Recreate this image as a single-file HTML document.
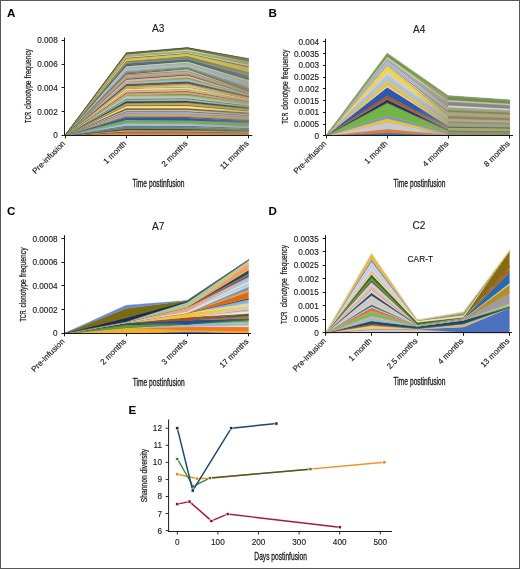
<!DOCTYPE html>
<html><head><meta charset="utf-8"><style>
html,body{margin:0;padding:0;background:#fff;}
#w{position:relative;width:520px;height:569px;overflow:hidden;background:#fff;}
svg{position:absolute;left:0;top:0;filter:blur(0.35px);}
text{font-family:"Liberation Sans", sans-serif;}
</style></head><body><div id="w">
<svg width="520" height="569" viewBox="0 0 520 569">
<rect x="0.5" y="0.5" width="519" height="568" fill="#fff" stroke="#585858" stroke-width="1"/>

<text x="7" y="17" font-size="11.6" font-weight="bold" fill="#000">A</text>
<text x="268.6" y="16.9" font-size="11.6" font-weight="bold" fill="#000">B</text>
<text x="6.9" y="215" font-size="11.6" font-weight="bold" fill="#000">C</text>
<text x="268.5" y="214.7" font-size="11.6" font-weight="bold" fill="#000">D</text>
<text x="128.5" y="413.6" font-size="11.6" font-weight="bold" fill="#000">E</text>
<text x="158.3" y="31.5" text-anchor="middle" font-size="10.1" fill="#1a1a1a" stroke="#1a1a1a" stroke-width="0.12">A3</text>
<text x="419.2" y="33.1" text-anchor="middle" font-size="10.1" fill="#1a1a1a" stroke="#1a1a1a" stroke-width="0.12">A4</text>
<text x="158.2" y="229.5" text-anchor="middle" font-size="10.1" fill="#1a1a1a" stroke="#1a1a1a" stroke-width="0.12">A7</text>
<text x="419" y="229.4" text-anchor="middle" font-size="10.1" fill="#1a1a1a" stroke="#1a1a1a" stroke-width="0.12">C2</text>
<path d="M65.00,135.40 L126.30,134.51 L187.40,134.54 L248.60,134.77 L248.60,135.40 L187.40,135.40 L126.30,135.40 L65.00,135.40Z" fill="#c8a070" stroke="#c8a070" stroke-width="0.35"/>
<path d="M65.00,135.40 L126.30,134.17 L187.40,134.18 L248.60,134.54 L248.60,134.77 L187.40,134.54 L126.30,134.51 L65.00,135.40Z" fill="#a89868" stroke="#a89868" stroke-width="0.35"/>
<path d="M65.00,135.40 L126.30,132.32 L187.40,132.23 L248.60,133.10 L248.60,134.54 L187.40,134.18 L126.30,134.17 L65.00,135.40Z" fill="#e07a30" stroke="#e07a30" stroke-width="0.35"/>
<path d="M65.00,135.40 L126.30,131.98 L187.40,131.94 L248.60,132.82 L248.60,133.10 L187.40,132.23 L126.30,132.32 L65.00,135.40Z" fill="#7a7a48" stroke="#7a7a48" stroke-width="0.35"/>
<path d="M65.00,135.40 L126.30,131.54 L187.40,131.57 L248.60,132.47 L248.60,132.82 L187.40,131.94 L126.30,131.98 L65.00,135.40Z" fill="#3a3a2a" stroke="#3a3a2a" stroke-width="0.35"/>
<path d="M65.00,135.40 L126.30,130.35 L187.40,130.55 L248.60,131.65 L248.60,132.47 L187.40,131.57 L126.30,131.54 L65.00,135.40Z" fill="#f0a070" stroke="#f0a070" stroke-width="0.35"/>
<path d="M65.00,135.40 L126.30,130.01 L187.40,130.21 L248.60,131.34 L248.60,131.65 L187.40,130.55 L126.30,130.35 L65.00,135.40Z" fill="#8a8a80" stroke="#8a8a80" stroke-width="0.35"/>
<path d="M65.00,135.40 L126.30,128.75 L187.40,129.10 L248.60,130.42 L248.60,131.34 L187.40,130.21 L126.30,130.01 L65.00,135.40Z" fill="#4a4a2a" stroke="#4a4a2a" stroke-width="0.35"/>
<path d="M65.00,135.40 L126.30,128.42 L187.40,128.74 L248.60,130.09 L248.60,130.42 L187.40,129.10 L126.30,128.75 L65.00,135.40Z" fill="#5a5a30" stroke="#5a5a30" stroke-width="0.35"/>
<path d="M65.00,135.40 L126.30,126.56 L187.40,126.76 L248.60,128.63 L248.60,130.09 L187.40,128.74 L126.30,128.42 L65.00,135.40Z" fill="#5a8a80" stroke="#5a8a80" stroke-width="0.35"/>
<path d="M65.00,135.40 L126.30,126.22 L187.40,126.35 L248.60,128.41 L248.60,128.63 L187.40,126.76 L126.30,126.56 L65.00,135.40Z" fill="#a0a890" stroke="#a0a890" stroke-width="0.35"/>
<path d="M65.00,135.40 L126.30,125.78 L187.40,125.82 L248.60,128.07 L248.60,128.41 L187.40,126.35 L126.30,126.22 L65.00,135.40Z" fill="#2a4a5a" stroke="#2a4a5a" stroke-width="0.35"/>
<path d="M65.00,135.40 L126.30,123.62 L187.40,123.91 L248.60,126.50 L248.60,128.07 L187.40,125.82 L126.30,125.78 L65.00,135.40Z" fill="#b0b8e8" stroke="#b0b8e8" stroke-width="0.35"/>
<path d="M65.00,135.40 L126.30,123.29 L187.40,123.59 L248.60,126.14 L248.60,126.50 L187.40,123.91 L126.30,123.62 L65.00,135.40Z" fill="#98a8b0" stroke="#98a8b0" stroke-width="0.35"/>
<path d="M65.00,135.40 L126.30,120.24 L187.40,120.84 L248.60,123.09 L248.60,126.14 L187.40,123.59 L126.30,123.29 L65.00,135.40Z" fill="#70b050" stroke="#70b050" stroke-width="0.35"/>
<path d="M65.00,135.40 L126.30,119.91 L187.40,120.48 L248.60,122.78 L248.60,123.09 L187.40,120.84 L126.30,120.24 L65.00,135.40Z" fill="#b89a68" stroke="#b89a68" stroke-width="0.35"/>
<path d="M65.00,135.40 L126.30,117.46 L187.40,117.89 L248.60,120.82 L248.60,122.78 L187.40,120.48 L126.30,119.91 L65.00,135.40Z" fill="#2a5aa8" stroke="#2a5aa8" stroke-width="0.35"/>
<path d="M65.00,135.40 L126.30,117.12 L187.40,117.61 L248.60,120.53 L248.60,120.82 L187.40,117.89 L126.30,117.46 L65.00,135.40Z" fill="#7a8a70" stroke="#7a8a70" stroke-width="0.35"/>
<path d="M65.00,135.40 L126.30,116.68 L187.40,117.11 L248.60,120.11 L248.60,120.53 L187.40,117.61 L126.30,117.12 L65.00,135.40Z" fill="#5a3a20" stroke="#5a3a20" stroke-width="0.35"/>
<path d="M65.00,135.40 L126.30,115.78 L187.40,116.26 L248.60,119.22 L248.60,120.11 L187.40,117.11 L126.30,116.68 L65.00,135.40Z" fill="#909090" stroke="#909090" stroke-width="0.35"/>
<path d="M65.00,135.40 L126.30,115.45 L187.40,115.92 L248.60,118.92 L248.60,119.22 L187.40,116.26 L126.30,115.78 L65.00,135.40Z" fill="#908a50" stroke="#908a50" stroke-width="0.35"/>
<path d="M65.00,135.40 L126.30,113.59 L187.40,113.77 L248.60,116.98 L248.60,118.92 L187.40,115.92 L126.30,115.45 L65.00,135.40Z" fill="#d0a080" stroke="#d0a080" stroke-width="0.35"/>
<path d="M65.00,135.40 L126.30,113.26 L187.40,113.46 L248.60,116.64 L248.60,116.98 L187.40,113.77 L126.30,113.59 L65.00,135.40Z" fill="#606048" stroke="#606048" stroke-width="0.35"/>
<path d="M65.00,135.40 L126.30,111.99 L187.40,112.14 L248.60,115.56 L248.60,116.64 L187.40,113.46 L126.30,113.26 L65.00,135.40Z" fill="#a0c0e8" stroke="#a0c0e8" stroke-width="0.35"/>
<path d="M65.00,135.40 L126.30,111.66 L187.40,111.77 L248.60,115.33 L248.60,115.56 L187.40,112.14 L126.30,111.99 L65.00,135.40Z" fill="#a0a088" stroke="#a0a088" stroke-width="0.35"/>
<path d="M65.00,135.40 L126.30,111.21 L187.40,111.22 L248.60,115.05 L248.60,115.33 L187.40,111.77 L126.30,111.66 L65.00,135.40Z" fill="#2a3a6a" stroke="#2a3a6a" stroke-width="0.35"/>
<path d="M65.00,135.40 L126.30,109.73 L187.40,109.73 L248.60,113.84 L248.60,115.05 L187.40,111.22 L126.30,111.21 L65.00,135.40Z" fill="#e8b890" stroke="#e8b890" stroke-width="0.35"/>
<path d="M65.00,135.40 L126.30,109.39 L187.40,109.43 L248.60,113.59 L248.60,113.84 L187.40,109.73 L126.30,109.73 L65.00,135.40Z" fill="#8a9060" stroke="#8a9060" stroke-width="0.35"/>
<path d="M65.00,135.40 L126.30,108.13 L187.40,108.37 L248.60,112.59 L248.60,113.59 L187.40,109.43 L126.30,109.39 L65.00,135.40Z" fill="#5a5030" stroke="#5a5030" stroke-width="0.35"/>
<path d="M65.00,135.40 L126.30,107.80 L187.40,107.98 L248.60,112.34 L248.60,112.59 L187.40,108.37 L126.30,108.13 L65.00,135.40Z" fill="#a89868" stroke="#a89868" stroke-width="0.35"/>
<path d="M65.00,135.40 L126.30,105.94 L187.40,105.78 L248.60,111.07 L248.60,112.34 L187.40,107.98 L126.30,107.80 L65.00,135.40Z" fill="#f0e8a0" stroke="#f0e8a0" stroke-width="0.35"/>
<path d="M65.00,135.40 L126.30,105.60 L187.40,105.40 L248.60,110.81 L248.60,111.07 L187.40,105.78 L126.30,105.94 L65.00,135.40Z" fill="#7a7a48" stroke="#7a7a48" stroke-width="0.35"/>
<path d="M65.00,135.40 L126.30,105.16 L187.40,104.93 L248.60,110.49 L248.60,110.81 L187.40,105.40 L126.30,105.60 L65.00,135.40Z" fill="#4a5a30" stroke="#4a5a30" stroke-width="0.35"/>
<path d="M65.00,135.40 L126.30,103.38 L187.40,102.83 L248.60,108.93 L248.60,110.49 L187.40,104.93 L126.30,105.16 L65.00,135.40Z" fill="#e8a020" stroke="#e8a020" stroke-width="0.35"/>
<path d="M65.00,135.40 L126.30,103.04 L187.40,102.49 L248.60,108.67 L248.60,108.93 L187.40,102.83 L126.30,103.38 L65.00,135.40Z" fill="#8a8a80" stroke="#8a8a80" stroke-width="0.35"/>
<path d="M65.00,135.40 L126.30,101.18 L187.40,100.91 L248.60,107.18 L248.60,108.67 L187.40,102.49 L126.30,103.04 L65.00,135.40Z" fill="#1a4a5a" stroke="#1a4a5a" stroke-width="0.35"/>
<path d="M65.00,135.40 L126.30,100.85 L187.40,100.54 L248.60,106.88 L248.60,107.18 L187.40,100.91 L126.30,101.18 L65.00,135.40Z" fill="#5a5a30" stroke="#5a5a30" stroke-width="0.35"/>
<path d="M65.00,135.40 L126.30,99.59 L187.40,99.07 L248.60,106.03 L248.60,106.88 L187.40,100.54 L126.30,100.85 L65.00,135.40Z" fill="#a0c0e0" stroke="#a0c0e0" stroke-width="0.35"/>
<path d="M65.00,135.40 L126.30,99.25 L187.40,98.74 L248.60,105.77 L248.60,106.03 L187.40,99.07 L126.30,99.59 L65.00,135.40Z" fill="#a0a890" stroke="#a0a890" stroke-width="0.35"/>
<path d="M65.00,135.40 L126.30,98.81 L187.40,98.36 L248.60,105.44 L248.60,105.77 L187.40,98.74 L126.30,99.25 L65.00,135.40Z" fill="#3a3a2a" stroke="#3a3a2a" stroke-width="0.35"/>
<path d="M65.00,135.40 L126.30,96.95 L187.40,96.70 L248.60,104.28 L248.60,105.44 L187.40,98.36 L126.30,98.81 L65.00,135.40Z" fill="#b8d8a0" stroke="#b8d8a0" stroke-width="0.35"/>
<path d="M65.00,135.40 L126.30,96.61 L187.40,96.41 L248.60,104.00 L248.60,104.28 L187.40,96.70 L126.30,96.95 L65.00,135.40Z" fill="#98a8b0" stroke="#98a8b0" stroke-width="0.35"/>
<path d="M65.00,135.40 L126.30,95.50 L187.40,95.43 L248.60,103.31 L248.60,104.00 L187.40,96.41 L126.30,96.61 L65.00,135.40Z" fill="#b0b8c0" stroke="#b0b8c0" stroke-width="0.35"/>
<path d="M65.00,135.40 L126.30,95.16 L187.40,95.10 L248.60,103.06 L248.60,103.31 L187.40,95.43 L126.30,95.50 L65.00,135.40Z" fill="#b89a68" stroke="#b89a68" stroke-width="0.35"/>
<path d="M65.00,135.40 L126.30,94.94 L187.40,93.44 L248.60,102.92 L248.60,103.06 L187.40,95.10 L126.30,95.16 L65.00,135.40Z" fill="#6a9a50" stroke="#6a9a50" stroke-width="0.35"/>
<path d="M65.00,135.40 L126.30,93.31 L187.40,91.72 L248.60,101.69 L248.60,102.92 L187.40,93.44 L126.30,94.94 L65.00,135.40Z" fill="#e0a060" stroke="#e0a060" stroke-width="0.35"/>
<path d="M65.00,135.40 L126.30,92.97 L187.40,91.33 L248.60,101.44 L248.60,101.69 L187.40,91.72 L126.30,93.31 L65.00,135.40Z" fill="#7a8a70" stroke="#7a8a70" stroke-width="0.35"/>
<path d="M65.00,135.40 L126.30,92.53 L187.40,90.91 L248.60,101.16 L248.60,101.44 L187.40,91.33 L126.30,92.97 L65.00,135.40Z" fill="#2a4a5a" stroke="#2a4a5a" stroke-width="0.35"/>
<path d="M65.00,135.40 L126.30,90.67 L187.40,89.10 L248.60,99.76 L248.60,101.16 L187.40,90.91 L126.30,92.53 L65.00,135.40Z" fill="#f0b080" stroke="#f0b080" stroke-width="0.35"/>
<path d="M65.00,135.40 L126.30,90.33 L187.40,88.69 L248.60,99.57 L248.60,99.76 L187.40,89.10 L126.30,90.67 L65.00,135.40Z" fill="#908a50" stroke="#908a50" stroke-width="0.35"/>
<path d="M65.00,135.40 L126.30,88.48 L187.40,87.02 L248.60,98.49 L248.60,99.57 L187.40,88.69 L126.30,90.33 L65.00,135.40Z" fill="#f0e0a0" stroke="#f0e0a0" stroke-width="0.35"/>
<path d="M65.00,135.40 L126.30,88.14 L187.40,86.71 L248.60,98.27 L248.60,98.49 L187.40,87.02 L126.30,88.48 L65.00,135.40Z" fill="#606048" stroke="#606048" stroke-width="0.35"/>
<path d="M65.00,135.40 L126.30,87.92 L187.40,85.01 L248.60,98.14 L248.60,98.27 L187.40,86.71 L126.30,88.14 L65.00,135.40Z" fill="#b8d8a0" stroke="#b8d8a0" stroke-width="0.35"/>
<path d="M65.00,135.40 L126.30,86.14 L187.40,83.53 L248.60,97.01 L248.60,98.14 L187.40,85.01 L126.30,87.92 L65.00,135.40Z" fill="#e89030" stroke="#e89030" stroke-width="0.35"/>
<path d="M65.00,135.40 L126.30,85.80 L187.40,83.20 L248.60,96.79 L248.60,97.01 L187.40,83.53 L126.30,86.14 L65.00,135.40Z" fill="#a0a088" stroke="#a0a088" stroke-width="0.35"/>
<path d="M65.00,135.40 L126.30,85.36 L187.40,82.66 L248.60,96.48 L248.60,96.79 L187.40,83.20 L126.30,85.80 L65.00,135.40Z" fill="#5a3a20" stroke="#5a3a20" stroke-width="0.35"/>
<path d="M65.00,135.40 L126.30,84.09 L187.40,81.34 L248.60,95.72 L248.60,96.48 L187.40,82.66 L126.30,85.36 L65.00,135.40Z" fill="#2a5a6a" stroke="#2a5a6a" stroke-width="0.35"/>
<path d="M65.00,135.40 L126.30,83.76 L187.40,80.97 L248.60,95.61 L248.60,95.72 L187.40,81.34 L126.30,84.09 L65.00,135.40Z" fill="#8a9060" stroke="#8a9060" stroke-width="0.35"/>
<path d="M65.00,135.40 L126.30,82.20 L187.40,79.10 L248.60,94.90 L248.60,95.61 L187.40,80.97 L126.30,83.76 L65.00,135.40Z" fill="#a8b8c8" stroke="#a8b8c8" stroke-width="0.35"/>
<path d="M65.00,135.40 L126.30,81.86 L187.40,78.70 L248.60,94.75 L248.60,94.90 L187.40,79.10 L126.30,82.20 L65.00,135.40Z" fill="#a89868" stroke="#a89868" stroke-width="0.35"/>
<path d="M65.00,135.40 L126.30,81.64 L187.40,77.02 L248.60,94.66 L248.60,94.75 L187.40,78.70 L126.30,81.86 L65.00,135.40Z" fill="#7aa860" stroke="#7aa860" stroke-width="0.35"/>
<path d="M65.00,135.40 L126.30,79.56 L187.40,75.21 L248.60,93.78 L248.60,94.66 L187.40,77.02 L126.30,81.64 L65.00,135.40Z" fill="#f0b090" stroke="#f0b090" stroke-width="0.35"/>
<path d="M65.00,135.40 L126.30,79.23 L187.40,74.92 L248.60,93.67 L248.60,93.78 L187.40,75.21 L126.30,79.56 L65.00,135.40Z" fill="#7a7a48" stroke="#7a7a48" stroke-width="0.35"/>
<path d="M65.00,135.40 L126.30,78.78 L187.40,74.52 L248.60,93.51 L248.60,93.67 L187.40,74.92 L126.30,79.23 L65.00,135.40Z" fill="#2a3a6a" stroke="#2a3a6a" stroke-width="0.35"/>
<path d="M65.00,135.40 L126.30,77.44 L187.40,73.22 L248.60,93.06 L248.60,93.51 L187.40,74.52 L126.30,78.78 L65.00,135.40Z" fill="#a0a0a0" stroke="#a0a0a0" stroke-width="0.35"/>
<path d="M65.00,135.40 L126.30,77.11 L187.40,72.95 L248.60,92.95 L248.60,93.06 L187.40,73.22 L126.30,77.44 L65.00,135.40Z" fill="#8a8a80" stroke="#8a8a80" stroke-width="0.35"/>
<path d="M65.00,135.40 L126.30,74.73 L187.40,70.88 L248.60,92.04 L248.60,92.95 L187.40,72.95 L126.30,77.11 L65.00,135.40Z" fill="#d0a080" stroke="#d0a080" stroke-width="0.35"/>
<path d="M65.00,135.40 L126.30,74.40 L187.40,70.64 L248.60,91.63 L248.60,92.04 L187.40,70.88 L126.30,74.73 L65.00,135.40Z" fill="#5a5a30" stroke="#5a5a30" stroke-width="0.35"/>
<path d="M65.00,135.40 L126.30,74.17 L187.40,68.99 L248.60,91.34 L248.60,91.63 L187.40,70.64 L126.30,74.40 L65.00,135.40Z" fill="#a8d0b0" stroke="#a8d0b0" stroke-width="0.35"/>
<path d="M65.00,135.40 L126.30,73.21 L187.40,68.30 L248.60,89.98 L248.60,91.34 L187.40,68.99 L126.30,74.17 L65.00,135.40Z" fill="#6a4a2a" stroke="#6a4a2a" stroke-width="0.35"/>
<path d="M65.00,135.40 L126.30,72.87 L187.40,68.05 L248.60,89.55 L248.60,89.98 L187.40,68.30 L126.30,73.21 L65.00,135.40Z" fill="#a0a890" stroke="#a0a890" stroke-width="0.35"/>
<path d="M65.00,135.40 L126.30,72.43 L187.40,67.65 L248.60,88.75 L248.60,89.55 L187.40,68.05 L126.30,72.87 L65.00,135.40Z" fill="#4a5a30" stroke="#4a5a30" stroke-width="0.35"/>
<path d="M65.00,135.40 L126.30,70.94 L187.40,66.48 L248.60,86.53 L248.60,88.75 L187.40,67.65 L126.30,72.43 L65.00,135.40Z" fill="#8a9a80" stroke="#8a9a80" stroke-width="0.35"/>
<path d="M65.00,135.40 L126.30,70.61 L187.40,66.26 L248.60,86.11 L248.60,86.53 L187.40,66.48 L126.30,70.94 L65.00,135.40Z" fill="#98a8b0" stroke="#98a8b0" stroke-width="0.35"/>
<path d="M65.00,135.40 L126.30,67.86 L187.40,64.22 L248.60,82.37 L248.60,86.11 L187.40,66.26 L126.30,70.61 L65.00,135.40Z" fill="#a8b8e0" stroke="#a8b8e0" stroke-width="0.35"/>
<path d="M65.00,135.40 L126.30,67.52 L187.40,63.92 L248.60,81.94 L248.60,82.37 L187.40,64.22 L126.30,67.86 L65.00,135.40Z" fill="#b89a68" stroke="#b89a68" stroke-width="0.35"/>
<path d="M65.00,135.40 L126.30,67.30 L187.40,62.32 L248.60,81.55 L248.60,81.94 L187.40,63.92 L126.30,67.52 L65.00,135.40Z" fill="#9ac070" stroke="#9ac070" stroke-width="0.35"/>
<path d="M65.00,135.40 L126.30,66.04 L187.40,61.30 L248.60,79.92 L248.60,81.55 L187.40,62.32 L126.30,67.30 L65.00,135.40Z" fill="#c8c8c8" stroke="#c8c8c8" stroke-width="0.35"/>
<path d="M65.00,135.40 L126.30,65.70 L187.40,61.03 L248.60,79.51 L248.60,79.92 L187.40,61.30 L126.30,66.04 L65.00,135.40Z" fill="#7a8a70" stroke="#7a8a70" stroke-width="0.35"/>
<path d="M65.00,135.40 L126.30,65.26 L187.40,60.68 L248.60,78.71 L248.60,79.51 L187.40,61.03 L126.30,65.70 L65.00,135.40Z" fill="#3a3a2a" stroke="#3a3a2a" stroke-width="0.35"/>
<path d="M65.00,135.40 L126.30,63.40 L187.40,58.99 L248.60,75.71 L248.60,78.71 L187.40,60.68 L126.30,65.26 L65.00,135.40Z" fill="#4a6a90" stroke="#4a6a90" stroke-width="0.35"/>
<path d="M65.00,135.40 L126.30,63.07 L187.40,58.75 L248.60,75.23 L248.60,75.71 L187.40,58.99 L126.30,63.40 L65.00,135.40Z" fill="#908a50" stroke="#908a50" stroke-width="0.35"/>
<path d="M65.00,135.40 L126.30,61.58 L187.40,57.73 L248.60,72.76 L248.60,75.23 L187.40,58.75 L126.30,63.07 L65.00,135.40Z" fill="#8a8a70" stroke="#8a8a70" stroke-width="0.35"/>
<path d="M65.00,135.40 L126.30,61.24 L187.40,57.46 L248.60,72.20 L248.60,72.76 L187.40,57.73 L126.30,61.58 L65.00,135.40Z" fill="#606048" stroke="#606048" stroke-width="0.35"/>
<path d="M65.00,135.40 L126.30,61.02 L187.40,55.83 L248.60,71.90 L248.60,72.20 L187.40,57.46 L126.30,61.24 L65.00,135.40Z" fill="#6a9a50" stroke="#6a9a50" stroke-width="0.35"/>
<path d="M65.00,135.40 L126.30,58.57 L187.40,53.65 L248.60,67.51 L248.60,71.90 L187.40,55.83 L126.30,61.02 L65.00,135.40Z" fill="#e8c040" stroke="#e8c040" stroke-width="0.35"/>
<path d="M65.00,135.40 L126.30,58.24 L187.40,53.34 L248.60,66.95 L248.60,67.51 L187.40,53.65 L126.30,58.57 L65.00,135.40Z" fill="#a0a088" stroke="#a0a088" stroke-width="0.35"/>
<path d="M65.00,135.40 L126.30,57.79 L187.40,52.94 L248.60,66.21 L248.60,66.95 L187.40,53.34 L126.30,58.24 L65.00,135.40Z" fill="#2a4a5a" stroke="#2a4a5a" stroke-width="0.35"/>
<path d="M65.00,135.40 L126.30,56.53 L187.40,52.05 L248.60,64.31 L248.60,66.21 L187.40,52.94 L126.30,57.79 L65.00,135.40Z" fill="#d8d890" stroke="#d8d890" stroke-width="0.35"/>
<path d="M65.00,135.40 L126.30,56.19 L187.40,51.80 L248.60,63.90 L248.60,64.31 L187.40,52.05 L126.30,56.53 L65.00,135.40Z" fill="#8a9060" stroke="#8a9060" stroke-width="0.35"/>
<path d="M65.00,135.40 L126.30,55.00 L187.40,51.04 L248.60,62.27 L248.60,63.90 L187.40,51.80 L126.30,56.19 L65.00,135.40Z" fill="#9ab070" stroke="#9ab070" stroke-width="0.35"/>
<path d="M65.00,135.40 L126.30,54.67 L187.40,50.80 L248.60,61.73 L248.60,62.27 L187.40,51.04 L126.30,55.00 L65.00,135.40Z" fill="#a89868" stroke="#a89868" stroke-width="0.35"/>
<path d="M65.00,135.40 L126.30,54.45 L187.40,49.13 L248.60,61.40 L248.60,61.73 L187.40,50.80 L126.30,54.67 L65.00,135.40Z" fill="#b8d8a0" stroke="#b8d8a0" stroke-width="0.35"/>
<path d="M65.00,135.40 L126.30,53.48 L187.40,48.23 L248.60,59.67 L248.60,61.40 L187.40,49.13 L126.30,54.45 L65.00,135.40Z" fill="#5a6a4a" stroke="#5a6a4a" stroke-width="0.35"/>
<path d="M65.00,135.40 L126.30,53.15 L187.40,47.91 L248.60,59.20 L248.60,59.67 L187.40,48.23 L126.30,53.48 L65.00,135.40Z" fill="#7a7a48" stroke="#7a7a48" stroke-width="0.35"/>
<path d="M65.00,135.40 L126.30,52.70 L187.40,47.60 L248.60,58.60 L248.60,59.20 L187.40,47.91 L126.30,53.15 L65.00,135.40Z" fill="#5a3a20" stroke="#5a3a20" stroke-width="0.35"/>
<defs><clipPath id="clipA"><path d="M65,135.4 L126.3,52.7 L187.4,47.6 L248.6,58.6 L248.6,135.4 Z"/></clipPath>
<linearGradient id="muteA" gradientUnits="userSpaceOnUse" x1="192" y1="0" x2="249" y2="0">
<stop offset="0" stop-color="#928e70" stop-opacity="0"/><stop offset="1" stop-color="#928e70" stop-opacity="0.45"/></linearGradient></defs>
<rect x="187" y="45" width="63" height="91" fill="url(#muteA)" clip-path="url(#clipA)"/>
<path d="M326.20,135.50 L387.20,132.61 L448.40,135.25 L509.60,135.29 L509.60,135.50 L448.40,135.50 L387.20,135.50 L326.20,135.50Z" fill="#4070b0" stroke="#4070b0" stroke-width="0.35"/>
<path d="M326.20,135.50 L387.20,132.58 L448.40,135.00 L509.60,135.06 L509.60,135.29 L448.40,135.25 L387.20,132.61 L326.20,135.50Z" fill="#8a8a80" stroke="#8a8a80" stroke-width="0.35"/>
<path d="M326.20,135.50 L387.20,128.89 L448.40,134.67 L509.60,134.78 L509.60,135.06 L448.40,135.00 L387.20,132.58 L326.20,135.50Z" fill="#e87830" stroke="#e87830" stroke-width="0.35"/>
<path d="M326.20,135.50 L387.20,128.86 L448.40,134.42 L509.60,134.54 L509.60,134.78 L448.40,134.67 L387.20,128.89 L326.20,135.50Z" fill="#a0a0a0" stroke="#a0a0a0" stroke-width="0.35"/>
<path d="M326.20,135.50 L387.20,121.88 L448.40,134.00 L509.60,134.17 L509.60,134.54 L448.40,134.42 L387.20,128.86 L326.20,135.50Z" fill="#c8c8d0" stroke="#c8c8d0" stroke-width="0.35"/>
<path d="M326.20,135.50 L387.20,121.85 L448.40,133.75 L509.60,133.93 L509.60,134.17 L448.40,134.00 L387.20,121.88 L326.20,135.50Z" fill="#9aaa88" stroke="#9aaa88" stroke-width="0.35"/>
<path d="M326.20,135.50 L387.20,118.16 L448.40,133.41 L509.60,133.62 L509.60,133.93 L448.40,133.75 L387.20,121.85 L326.20,135.50Z" fill="#f5c030" stroke="#f5c030" stroke-width="0.35"/>
<path d="M326.20,135.50 L387.20,118.13 L448.40,133.16 L509.60,133.38 L509.60,133.62 L448.40,133.41 L387.20,118.16 L326.20,135.50Z" fill="#8a8a40" stroke="#8a8a40" stroke-width="0.35"/>
<path d="M326.20,135.50 L387.20,115.24 L448.40,132.83 L509.60,133.08 L509.60,133.38 L448.40,133.16 L387.20,118.13 L326.20,135.50Z" fill="#6a9ad0" stroke="#6a9ad0" stroke-width="0.35"/>
<path d="M326.20,135.50 L387.20,115.21 L448.40,132.58 L509.60,132.84 L509.60,133.08 L448.40,132.83 L387.20,115.24 L326.20,135.50Z" fill="#b0a870" stroke="#b0a870" stroke-width="0.35"/>
<path d="M326.20,135.50 L387.20,102.85 L448.40,130.91 L509.60,131.39 L509.60,132.84 L448.40,132.58 L387.20,115.21 L326.20,135.50Z" fill="#72b544" stroke="#72b544" stroke-width="0.35"/>
<path d="M326.20,135.50 L387.20,102.82 L448.40,130.66 L509.60,131.15 L509.60,131.39 L448.40,130.91 L387.20,102.85 L326.20,135.50Z" fill="#7a7a60" stroke="#7a7a60" stroke-width="0.35"/>
<path d="M326.20,135.50 L387.20,99.13 L448.40,129.16 L509.60,129.80 L509.60,131.15 L448.40,130.66 L387.20,102.82 L326.20,135.50Z" fill="#1f3a5f" stroke="#1f3a5f" stroke-width="0.35"/>
<path d="M326.20,135.50 L387.20,99.10 L448.40,128.91 L509.60,129.57 L509.60,129.80 L448.40,129.16 L387.20,99.13 L326.20,135.50Z" fill="#c8a860" stroke="#c8a860" stroke-width="0.35"/>
<path d="M326.20,135.50 L387.20,95.81 L448.40,127.91 L509.60,128.65 L509.60,129.57 L448.40,128.91 L387.20,99.10 L326.20,135.50Z" fill="#b0502a" stroke="#b0502a" stroke-width="0.35"/>
<path d="M326.20,135.50 L387.20,95.78 L448.40,127.65 L509.60,128.41 L509.60,128.65 L448.40,127.91 L387.20,95.81 L326.20,135.50Z" fill="#909088" stroke="#909088" stroke-width="0.35"/>
<path d="M326.20,135.50 L387.20,87.21 L448.40,125.99 L509.60,127.05 L509.60,128.41 L448.40,127.65 L387.20,95.78 L326.20,135.50Z" fill="#3058a8" stroke="#3058a8" stroke-width="0.35"/>
<path d="M326.20,135.50 L387.20,87.18 L448.40,125.74 L509.60,126.81 L509.60,127.05 L448.40,125.99 L387.20,87.21 L326.20,135.50Z" fill="#6a6a30" stroke="#6a6a30" stroke-width="0.35"/>
<path d="M326.20,135.50 L387.20,85.18 L448.40,124.90 L509.60,126.07 L509.60,126.81 L448.40,125.74 L387.20,87.18 L326.20,135.50Z" fill="#d8d8e8" stroke="#d8d8e8" stroke-width="0.35"/>
<path d="M326.20,135.50 L387.20,85.15 L448.40,124.65 L509.60,125.83 L509.60,126.07 L448.40,124.90 L387.20,85.18 L326.20,135.50Z" fill="#8a9aa0" stroke="#8a9aa0" stroke-width="0.35"/>
<path d="M326.20,135.50 L387.20,80.97 L448.40,122.98 L509.60,124.27 L509.60,125.83 L448.40,124.65 L387.20,85.15 L326.20,135.50Z" fill="#f0c030" stroke="#f0c030" stroke-width="0.35"/>
<path d="M326.20,135.50 L387.20,80.94 L448.40,122.73 L509.60,124.04 L509.60,124.27 L448.40,122.98 L387.20,80.97 L326.20,135.50Z" fill="#c0b890" stroke="#c0b890" stroke-width="0.35"/>
<path d="M326.20,135.50 L387.20,80.14 L448.40,122.31 L509.60,123.66 L509.60,124.04 L448.40,122.73 L387.20,80.94 L326.20,135.50Z" fill="#f0f0e0" stroke="#f0f0e0" stroke-width="0.35"/>
<path d="M326.20,135.50 L387.20,80.11 L448.40,122.06 L509.60,123.42 L509.60,123.66 L448.40,122.31 L387.20,80.14 L326.20,135.50Z" fill="#70705a" stroke="#70705a" stroke-width="0.35"/>
<path d="M326.20,135.50 L387.20,76.82 L448.40,120.81 L509.60,122.28 L509.60,123.42 L448.40,122.06 L387.20,80.11 L326.20,135.50Z" fill="#a8c8e8" stroke="#a8c8e8" stroke-width="0.35"/>
<path d="M326.20,135.50 L387.20,76.79 L448.40,120.56 L509.60,122.04 L509.60,122.28 L448.40,120.81 L387.20,76.82 L326.20,135.50Z" fill="#8a8a80" stroke="#8a8a80" stroke-width="0.35"/>
<path d="M326.20,135.50 L387.20,73.50 L448.40,119.31 L509.60,120.95 L509.60,122.04 L448.40,120.56 L387.20,76.79 L326.20,135.50Z" fill="#c0c8d0" stroke="#c0c8d0" stroke-width="0.35"/>
<path d="M326.20,135.50 L387.20,73.47 L448.40,119.06 L509.60,120.72 L509.60,120.95 L448.40,119.31 L387.20,73.50 L326.20,135.50Z" fill="#a0a0a0" stroke="#a0a0a0" stroke-width="0.35"/>
<path d="M326.20,135.50 L387.20,71.77 L448.40,118.22 L509.60,120.02 L509.60,120.72 L448.40,119.06 L387.20,73.47 L326.20,135.50Z" fill="#e0e0e8" stroke="#e0e0e8" stroke-width="0.35"/>
<path d="M326.20,135.50 L387.20,71.74 L448.40,117.97 L509.60,119.79 L509.60,120.02 L448.40,118.22 L387.20,71.77 L326.20,135.50Z" fill="#9aaa88" stroke="#9aaa88" stroke-width="0.35"/>
<path d="M326.20,135.50 L387.20,65.66 L448.40,116.30 L509.60,118.26 L509.60,119.79 L448.40,117.97 L387.20,71.74 L326.20,135.50Z" fill="#f2d44a" stroke="#f2d44a" stroke-width="0.35"/>
<path d="M326.20,135.50 L387.20,65.61 L448.40,115.25 L509.60,117.25 L509.60,118.26 L448.40,116.30 L387.20,65.66 L326.20,135.50Z" fill="#c8a860" stroke="#c8a860" stroke-width="0.35"/>
<path d="M326.20,135.50 L387.20,65.56 L448.40,113.92 L509.60,116.09 L509.60,117.25 L448.40,115.25 L387.20,65.61 L326.20,135.50Z" fill="#909088" stroke="#909088" stroke-width="0.35"/>
<path d="M326.20,135.50 L387.20,64.66 L448.40,113.09 L509.60,115.37 L509.60,116.09 L448.40,113.92 L387.20,65.56 L326.20,135.50Z" fill="#f0f0d0" stroke="#f0f0d0" stroke-width="0.35"/>
<path d="M326.20,135.50 L387.20,64.62 L448.40,111.78 L509.60,114.14 L509.60,115.37 L448.40,113.09 L387.20,64.66 L326.20,135.50Z" fill="#6a6a30" stroke="#6a6a30" stroke-width="0.35"/>
<path d="M326.20,135.50 L387.20,64.57 L448.40,110.79 L509.60,113.32 L509.60,114.14 L448.40,111.78 L387.20,64.62 L326.20,135.50Z" fill="#8a9aa0" stroke="#8a9aa0" stroke-width="0.35"/>
<path d="M326.20,135.50 L387.20,60.08 L448.40,108.28 L509.60,111.25 L509.60,113.32 L448.40,110.79 L387.20,64.57 L326.20,135.50Z" fill="#b0b8d8" stroke="#b0b8d8" stroke-width="0.35"/>
<path d="M326.20,135.50 L387.20,60.03 L448.40,106.99 L509.60,110.02 L509.60,111.25 L448.40,108.28 L387.20,60.08 L326.20,135.50Z" fill="#c0b890" stroke="#c0b890" stroke-width="0.35"/>
<path d="M326.20,135.50 L387.20,59.98 L448.40,106.01 L509.60,109.08 L509.60,110.02 L448.40,106.99 L387.20,60.03 L326.20,135.50Z" fill="#70705a" stroke="#70705a" stroke-width="0.35"/>
<path d="M326.20,135.50 L387.20,58.68 L448.40,104.76 L509.60,107.90 L509.60,109.08 L448.40,106.01 L387.20,59.98 L326.20,135.50Z" fill="#b0b0c8" stroke="#b0b0c8" stroke-width="0.35"/>
<path d="M326.20,135.50 L387.20,58.63 L448.40,103.56 L509.60,106.86 L509.60,107.90 L448.40,104.76 L387.20,58.68 L326.20,135.50Z" fill="#8a8a80" stroke="#8a8a80" stroke-width="0.35"/>
<path d="M326.20,135.50 L387.20,58.58 L448.40,102.42 L509.60,105.91 L509.60,106.86 L448.40,103.56 L387.20,58.63 L326.20,135.50Z" fill="#a0a0a0" stroke="#a0a0a0" stroke-width="0.35"/>
<path d="M326.20,135.50 L387.20,56.59 L448.40,101.58 L509.60,105.24 L509.60,105.91 L448.40,102.42 L387.20,58.58 L326.20,135.50Z" fill="#c8d8b0" stroke="#c8d8b0" stroke-width="0.35"/>
<path d="M326.20,135.50 L387.20,56.54 L448.40,100.26 L509.60,104.01 L509.60,105.24 L448.40,101.58 L387.20,56.59 L326.20,135.50Z" fill="#9aaa88" stroke="#9aaa88" stroke-width="0.35"/>
<path d="M326.20,135.50 L387.20,56.49 L448.40,99.12 L509.60,102.90 L509.60,104.01 L448.40,100.26 L387.20,56.54 L326.20,135.50Z" fill="#8a8a40" stroke="#8a8a40" stroke-width="0.35"/>
<path d="M326.20,135.50 L387.20,56.19 L448.40,98.45 L509.60,102.27 L509.60,102.90 L448.40,99.12 L387.20,56.49 L326.20,135.50Z" fill="#a8b090" stroke="#a8b090" stroke-width="0.35"/>
<path d="M326.20,135.50 L387.20,54.00 L448.40,96.45 L509.60,100.53 L509.60,102.27 L448.40,98.45 L387.20,56.19 L326.20,135.50Z" fill="#6a9a30" stroke="#6a9a30" stroke-width="0.35"/>
<path d="M326.20,135.50 L387.20,53.10 L448.40,95.70 L509.60,99.90 L509.60,100.53 L448.40,96.45 L387.20,54.00 L326.20,135.50Z" fill="#8a9a70" stroke="#8a9a70" stroke-width="0.35"/>
<defs><clipPath id="clipB"><path d="M326.2,135.5 L387.2,53.1 L448.4,95.7 L509.6,99.9 L509.6,135.5 Z"/></clipPath>
<linearGradient id="muteB" gradientUnits="userSpaceOnUse" x1="415" y1="0" x2="447" y2="0">
<stop offset="0" stop-color="#9c987a" stop-opacity="0"/><stop offset="1" stop-color="#9c987a" stop-opacity="0.62"/></linearGradient></defs>
<rect x="387" y="50" width="124" height="86" fill="url(#muteB)" clip-path="url(#clipB)"/><path d="M448.4,95.70 L509.6,99.90 L509.6,101.15 L448.4,97.10Z" fill="#8b9779" stroke="#8b9779" stroke-width="0.3"/><path d="M448.4,97.10 L509.6,101.15 L509.6,104.01 L448.4,100.30Z" fill="#709247" stroke="#709247" stroke-width="0.3"/><path d="M448.4,100.30 L509.6,104.01 L509.6,105.45 L448.4,101.90Z" fill="#c6c6b0" stroke="#c6c6b0" stroke-width="0.3"/><path d="M448.4,101.90 L509.6,105.45 L509.6,108.93 L448.4,105.80Z" fill="#89858d" stroke="#89858d" stroke-width="0.3"/><path d="M448.4,105.80 L509.6,108.93 L509.6,110.37 L448.4,107.40Z" fill="#e1dcd0" stroke="#e1dcd0" stroke-width="0.3"/><path d="M448.4,107.40 L509.6,110.37 L509.6,112.87 L448.4,110.20Z" fill="#9ca78f" stroke="#9ca78f" stroke-width="0.3"/><path d="M448.4,110.20 L509.6,112.87 L509.6,114.66 L448.4,112.20Z" fill="#878753" stroke="#878753" stroke-width="0.3"/><path d="M448.4,112.20 L509.6,114.66 L509.6,118.15 L448.4,116.10Z" fill="#aca67f" stroke="#aca67f" stroke-width="0.3"/><path d="M448.4,116.10 L509.6,118.15 L509.6,120.65 L448.4,118.90Z" fill="#888871" stroke="#888871" stroke-width="0.3"/><path d="M448.4,118.90 L509.6,120.65 L509.6,123.07 L448.4,121.60Z" fill="#bea876" stroke="#bea876" stroke-width="0.3"/><path d="M448.4,121.60 L509.6,123.07 L509.6,124.86 L448.4,123.60Z" fill="#8f8f8a" stroke="#8f8f8a" stroke-width="0.3"/><path d="M448.4,123.60 L509.6,124.86 L509.6,127.72 L448.4,126.80Z" fill="#99a589" stroke="#99a589" stroke-width="0.3"/><path d="M448.4,126.80 L509.6,127.72 L509.6,128.79 L448.4,128.00Z" fill="#68683f" stroke="#68683f" stroke-width="0.3"/><path d="M448.4,128.00 L509.6,128.79 L509.6,131.21 L448.4,130.70Z" fill="#aca67f" stroke="#aca67f" stroke-width="0.3"/><path d="M448.4,130.70 L509.6,131.21 L509.6,132.64 L448.4,132.30Z" fill="#7a8652" stroke="#7a8652" stroke-width="0.3"/><path d="M448.4,132.30 L509.6,132.64 L509.6,135.50 L448.4,135.50Z" fill="#8b966d" stroke="#8b966d" stroke-width="0.3"/>
<path d="M64.40,333.30 L126.00,333.26 L187.20,331.47 L248.50,333.20 L248.50,333.30 L187.20,333.30 L126.00,333.30 L64.40,333.30Z" fill="#4a6ab0" stroke="#4a6ab0" stroke-width="0.35"/>
<path d="M64.40,333.30 L126.00,333.21 L187.20,331.42 L248.50,331.65 L248.50,333.20 L187.20,331.47 L126.00,333.26 L64.40,333.30Z" fill="#f0a050" stroke="#f0a050" stroke-width="0.35"/>
<path d="M64.40,333.30 L126.00,327.73 L187.20,330.45 L248.50,331.35 L248.50,331.65 L187.20,331.42 L126.00,333.21 L64.40,333.30Z" fill="#f0b020" stroke="#f0b020" stroke-width="0.35"/>
<path d="M64.40,333.30 L126.00,327.69 L187.20,326.60 L248.50,326.68 L248.50,331.35 L187.20,330.45 L126.00,327.73 L64.40,333.30Z" fill="#f07820" stroke="#f07820" stroke-width="0.35"/>
<path d="M64.40,333.30 L126.00,327.64 L187.20,326.55 L248.50,325.52 L248.50,326.68 L187.20,326.60 L126.00,327.69 L64.40,333.30Z" fill="#f0e8d0" stroke="#f0e8d0" stroke-width="0.35"/>
<path d="M64.40,333.30 L126.00,327.60 L187.20,324.23 L248.50,323.28 L248.50,325.52 L187.20,326.55 L126.00,327.64 L64.40,333.30Z" fill="#90b8e0" stroke="#90b8e0" stroke-width="0.35"/>
<path d="M64.40,333.30 L126.00,327.56 L187.20,324.18 L248.50,322.11 L248.50,323.28 L187.20,324.23 L126.00,327.60 L64.40,333.30Z" fill="#b0c0c8" stroke="#b0c0c8" stroke-width="0.35"/>
<path d="M64.40,333.30 L126.00,327.52 L187.20,324.14 L248.50,320.16 L248.50,322.11 L187.20,324.18 L126.00,327.56 L64.40,333.30Z" fill="#60b060" stroke="#60b060" stroke-width="0.35"/>
<path d="M64.40,333.30 L126.00,327.47 L187.20,324.09 L248.50,319.09 L248.50,320.16 L187.20,324.14 L126.00,327.52 L64.40,333.30Z" fill="#4a4a20" stroke="#4a4a20" stroke-width="0.35"/>
<path d="M64.40,333.30 L126.00,325.21 L187.20,324.04 L248.50,318.90 L248.50,319.09 L187.20,324.09 L126.00,327.47 L64.40,333.30Z" fill="#5aa04a" stroke="#5aa04a" stroke-width="0.35"/>
<path d="M64.40,333.30 L126.00,322.85 L187.20,323.99 L248.50,318.71 L248.50,318.90 L187.20,324.04 L126.00,325.21 L64.40,333.30Z" fill="#3a5a2a" stroke="#3a5a2a" stroke-width="0.35"/>
<path d="M64.40,333.30 L126.00,322.81 L187.20,320.23 L248.50,318.41 L248.50,318.71 L187.20,323.99 L126.00,322.85 L64.40,333.30Z" fill="#2a4a8a" stroke="#2a4a8a" stroke-width="0.35"/>
<path d="M64.40,333.30 L126.00,322.76 L187.20,320.18 L248.50,316.08 L248.50,318.41 L187.20,320.23 L126.00,322.81 L64.40,333.30Z" fill="#c07030" stroke="#c07030" stroke-width="0.35"/>
<path d="M64.40,333.30 L126.00,322.72 L187.20,320.13 L248.50,313.74 L248.50,316.08 L187.20,320.18 L126.00,322.76 L64.40,333.30Z" fill="#206060" stroke="#206060" stroke-width="0.35"/>
<path d="M64.40,333.30 L126.00,322.68 L187.20,317.05 L248.50,313.45 L248.50,313.74 L187.20,320.13 L126.00,322.72 L64.40,333.30Z" fill="#a05020" stroke="#a05020" stroke-width="0.35"/>
<path d="M64.40,333.30 L126.00,322.63 L187.20,317.00 L248.50,311.12 L248.50,313.45 L187.20,317.05 L126.00,322.68 L64.40,333.30Z" fill="#f0ecd8" stroke="#f0ecd8" stroke-width="0.35"/>
<path d="M64.40,333.30 L126.00,322.59 L187.20,316.95 L248.50,309.17 L248.50,311.12 L187.20,317.00 L126.00,322.63 L64.40,333.30Z" fill="#e0a070" stroke="#e0a070" stroke-width="0.35"/>
<path d="M64.40,333.30 L126.00,322.55 L187.20,316.90 L248.50,306.54 L248.50,309.17 L187.20,316.95 L126.00,322.59 L64.40,333.30Z" fill="#c8c8e0" stroke="#c8c8e0" stroke-width="0.35"/>
<path d="M64.40,333.30 L126.00,322.50 L187.20,313.14 L248.50,306.06 L248.50,306.54 L187.20,316.90 L126.00,322.55 L64.40,333.30Z" fill="#f5c820" stroke="#f5c820" stroke-width="0.35"/>
<path d="M64.40,333.30 L126.00,322.46 L187.20,313.09 L248.50,302.94 L248.50,306.06 L187.20,313.14 L126.00,322.50 L64.40,333.30Z" fill="#e8d8a0" stroke="#e8d8a0" stroke-width="0.35"/>
<path d="M64.40,333.30 L126.00,322.42 L187.20,313.04 L248.50,299.44 L248.50,302.94 L187.20,313.09 L126.00,322.46 L64.40,333.30Z" fill="#80b8d0" stroke="#80b8d0" stroke-width="0.35"/>
<path d="M64.40,333.30 L126.00,322.38 L187.20,313.00 L248.50,298.37 L248.50,299.44 L187.20,313.04 L126.00,322.42 L64.40,333.30Z" fill="#3a3a7a" stroke="#3a3a7a" stroke-width="0.35"/>
<path d="M64.40,333.30 L126.00,322.33 L187.20,312.95 L248.50,291.75 L248.50,298.37 L187.20,313.00 L126.00,322.38 L64.40,333.30Z" fill="#e06a10" stroke="#e06a10" stroke-width="0.35"/>
<path d="M64.40,333.30 L126.00,322.29 L187.20,312.90 L248.50,289.42 L248.50,291.75 L187.20,312.95 L126.00,322.33 L64.40,333.30Z" fill="#e0a060" stroke="#e0a060" stroke-width="0.35"/>
<path d="M64.40,333.30 L126.00,322.25 L187.20,312.85 L248.50,287.08 L248.50,289.42 L187.20,312.90 L126.00,322.29 L64.40,333.30Z" fill="#5a9aa0" stroke="#5a9aa0" stroke-width="0.35"/>
<path d="M64.40,333.30 L126.00,322.20 L187.20,312.80 L248.50,285.53 L248.50,287.08 L187.20,312.85 L126.00,322.25 L64.40,333.30Z" fill="#c8b8e0" stroke="#c8b8e0" stroke-width="0.35"/>
<path d="M64.40,333.30 L126.00,322.16 L187.20,311.36 L248.50,285.23 L248.50,285.53 L187.20,312.80 L126.00,322.20 L64.40,333.30Z" fill="#f8f0d8" stroke="#f8f0d8" stroke-width="0.35"/>
<path d="M64.40,333.30 L126.00,322.12 L187.20,311.31 L248.50,283.00 L248.50,285.23 L187.20,311.36 L126.00,322.16 L64.40,333.30Z" fill="#b0c0e8" stroke="#b0c0e8" stroke-width="0.35"/>
<path d="M64.40,333.30 L126.00,322.07 L187.20,311.26 L248.50,281.44 L248.50,283.00 L187.20,311.31 L126.00,322.12 L64.40,333.30Z" fill="#f0e8c0" stroke="#f0e8c0" stroke-width="0.35"/>
<path d="M64.40,333.30 L126.00,322.03 L187.20,311.21 L248.50,279.10 L248.50,281.44 L187.20,311.26 L126.00,322.07 L64.40,333.30Z" fill="#a0c8e0" stroke="#a0c8e0" stroke-width="0.35"/>
<path d="M64.40,333.30 L126.00,321.99 L187.20,311.16 L248.50,277.16 L248.50,279.10 L187.20,311.21 L126.00,322.03 L64.40,333.30Z" fill="#a0c0d0" stroke="#a0c0d0" stroke-width="0.35"/>
<path d="M64.40,333.30 L126.00,321.95 L187.20,307.30 L248.50,276.87 L248.50,277.16 L187.20,311.16 L126.00,321.99 L64.40,333.30Z" fill="#f0a080" stroke="#f0a080" stroke-width="0.35"/>
<path d="M64.40,333.30 L126.00,321.90 L187.20,307.26 L248.50,275.41 L248.50,276.87 L187.20,307.30 L126.00,321.95 L64.40,333.30Z" fill="#5a3010" stroke="#5a3010" stroke-width="0.35"/>
<path d="M64.40,333.30 L126.00,321.86 L187.20,307.21 L248.50,273.85 L248.50,275.41 L187.20,307.26 L126.00,321.90 L64.40,333.30Z" fill="#8070c0" stroke="#8070c0" stroke-width="0.35"/>
<path d="M64.40,333.30 L126.00,321.82 L187.20,307.16 L248.50,270.35 L248.50,273.85 L187.20,307.21 L126.00,321.86 L64.40,333.30Z" fill="#204a40" stroke="#204a40" stroke-width="0.35"/>
<path d="M64.40,333.30 L126.00,321.77 L187.20,307.11 L248.50,264.22 L248.50,270.35 L187.20,307.16 L126.00,321.82 L64.40,333.30Z" fill="#f0a060" stroke="#f0a060" stroke-width="0.35"/>
<path d="M64.40,333.30 L126.00,321.73 L187.20,307.06 L248.50,261.88 L248.50,264.22 L187.20,307.11 L126.00,321.77 L64.40,333.30Z" fill="#f0b080" stroke="#f0b080" stroke-width="0.35"/>
<path d="M64.40,333.30 L126.00,321.69 L187.20,302.24 L248.50,260.13 L248.50,261.88 L187.20,307.06 L126.00,321.73 L64.40,333.30Z" fill="#a8cc90" stroke="#a8cc90" stroke-width="0.35"/>
<path d="M64.40,333.30 L126.00,317.82 L187.20,301.28 L248.50,260.03 L248.50,260.13 L187.20,302.24 L126.00,321.69 L64.40,333.30Z" fill="#1a2a5a" stroke="#1a2a5a" stroke-width="0.35"/>
<path d="M64.40,333.30 L126.00,317.77 L187.20,300.70 L248.50,259.84 L248.50,260.03 L187.20,301.28 L126.00,317.82 L64.40,333.30Z" fill="#3a4a1a" stroke="#3a4a1a" stroke-width="0.35"/>
<path d="M64.40,333.30 L126.00,308.53 L187.20,300.65 L248.50,259.82 L248.50,259.84 L187.20,300.70 L126.00,317.77 L64.40,333.30Z" fill="#7a6a10" stroke="#7a6a10" stroke-width="0.35"/>
<path d="M64.40,333.30 L126.00,305.30 L187.20,300.60 L248.50,259.80 L248.50,259.82 L187.20,300.65 L126.00,308.53 L64.40,333.30Z" fill="#6a88cc" stroke="#6a88cc" stroke-width="0.35"/>
<path d="M325.80,332.80 L371.50,331.70 L417.30,331.67 L463.50,332.73 L509.40,332.78 L509.40,332.80 L463.50,332.80 L417.30,332.80 L371.50,332.80 L325.80,332.80Z" fill="#c85030" stroke="#c85030" stroke-width="0.35"/>
<path d="M325.80,332.80 L371.50,329.41 L417.30,329.21 L463.50,332.50 L509.40,332.76 L509.40,332.78 L463.50,332.73 L417.30,331.67 L371.50,331.70 L325.80,332.80Z" fill="#c8c8c8" stroke="#c8c8c8" stroke-width="0.35"/>
<path d="M325.80,332.80 L371.50,329.14 L417.30,329.07 L463.50,326.99 L509.40,307.86 L509.40,332.76 L463.50,332.50 L417.30,329.21 L371.50,329.41 L325.80,332.80Z" fill="#4a70c0" stroke="#4a70c0" stroke-width="0.35"/>
<path d="M325.80,332.80 L371.50,328.68 L417.30,329.00 L463.50,326.62 L509.40,307.84 L509.40,307.86 L463.50,326.99 L417.30,329.07 L371.50,329.14 L325.80,332.80Z" fill="#e0a060" stroke="#e0a060" stroke-width="0.35"/>
<path d="M325.80,332.80 L371.50,325.66 L417.30,328.79 L463.50,326.40 L509.40,307.82 L509.40,307.84 L463.50,326.62 L417.30,329.00 L371.50,328.68 L325.80,332.80Z" fill="#e0d080" stroke="#e0d080" stroke-width="0.35"/>
<path d="M325.80,332.80 L371.50,325.38 L417.30,328.58 L463.50,323.86 L509.40,307.80 L509.40,307.82 L463.50,326.40 L417.30,328.79 L371.50,325.66 L325.80,332.80Z" fill="#c8b890" stroke="#c8b890" stroke-width="0.35"/>
<path d="M325.80,332.80 L371.50,323.92 L417.30,328.44 L463.50,323.79 L509.40,307.78 L509.40,307.80 L463.50,323.86 L417.30,328.58 L371.50,325.38 L325.80,332.80Z" fill="#b04a30" stroke="#b04a30" stroke-width="0.35"/>
<path d="M325.80,332.80 L371.50,320.89 L417.30,326.33 L463.50,320.29 L509.40,307.49 L509.40,307.78 L463.50,323.79 L417.30,328.44 L371.50,323.92 L325.80,332.80Z" fill="#1a4a6a" stroke="#1a4a6a" stroke-width="0.35"/>
<path d="M325.80,332.80 L371.50,320.71 L417.30,326.26 L463.50,320.14 L509.40,305.91 L509.40,307.49 L463.50,320.29 L417.30,326.33 L371.50,320.89 L325.80,332.80Z" fill="#4a7a3a" stroke="#4a7a3a" stroke-width="0.35"/>
<path d="M325.80,332.80 L371.50,320.53 L417.30,326.19 L463.50,319.99 L509.40,303.55 L509.40,305.91 L463.50,320.14 L417.30,326.26 L371.50,320.71 L325.80,332.80Z" fill="#a0d080" stroke="#a0d080" stroke-width="0.35"/>
<path d="M325.80,332.80 L371.50,317.50 L417.30,326.05 L463.50,319.77 L509.40,303.53 L509.40,303.55 L463.50,319.99 L417.30,326.19 L371.50,320.53 L325.80,332.80Z" fill="#a0b8d0" stroke="#a0b8d0" stroke-width="0.35"/>
<path d="M325.80,332.80 L371.50,315.95 L417.30,325.98 L463.50,319.69 L509.40,303.51 L509.40,303.53 L463.50,319.77 L417.30,326.05 L371.50,317.50 L325.80,332.80Z" fill="#f0a0a0" stroke="#f0a0a0" stroke-width="0.35"/>
<path d="M325.80,332.80 L371.50,315.76 L417.30,325.84 L463.50,319.47 L509.40,292.68 L509.40,303.51 L463.50,319.69 L417.30,325.98 L371.50,315.95 L325.80,332.80Z" fill="#a09aa0" stroke="#a09aa0" stroke-width="0.35"/>
<path d="M325.80,332.80 L371.50,312.01 L417.30,325.70 L463.50,319.39 L509.40,292.66 L509.40,292.68 L463.50,319.47 L417.30,325.84 L371.50,315.76 L325.80,332.80Z" fill="#70c050" stroke="#70c050" stroke-width="0.35"/>
<path d="M325.80,332.80 L371.50,310.82 L417.30,325.63 L463.50,319.32 L509.40,292.64 L509.40,292.66 L463.50,319.39 L417.30,325.70 L371.50,312.01 L325.80,332.80Z" fill="#a0a0a0" stroke="#a0a0a0" stroke-width="0.35"/>
<path d="M325.80,332.80 L371.50,307.80 L417.30,325.49 L463.50,319.25 L509.40,292.62 L509.40,292.64 L463.50,319.32 L417.30,325.63 L371.50,310.82 L325.80,332.80Z" fill="#e07030" stroke="#e07030" stroke-width="0.35"/>
<path d="M325.80,332.80 L371.50,307.61 L417.30,325.42 L463.50,319.10 L509.40,284.85 L509.40,292.62 L463.50,319.25 L417.30,325.49 L371.50,307.80 L325.80,332.80Z" fill="#b09020" stroke="#b09020" stroke-width="0.35"/>
<path d="M325.80,332.80 L371.50,306.51 L417.30,325.35 L463.50,319.02 L509.40,284.83 L509.40,284.85 L463.50,319.10 L417.30,325.42 L371.50,307.61 L325.80,332.80Z" fill="#e0e0d0" stroke="#e0e0d0" stroke-width="0.35"/>
<path d="M325.80,332.80 L371.50,304.22 L417.30,325.27 L463.50,318.95 L509.40,284.81 L509.40,284.83 L463.50,319.02 L417.30,325.35 L371.50,306.51 L325.80,332.80Z" fill="#3a6ab0" stroke="#3a6ab0" stroke-width="0.35"/>
<path d="M325.80,332.80 L371.50,304.04 L417.30,325.20 L463.50,318.87 L509.40,283.23 L509.40,284.81 L463.50,318.95 L417.30,325.27 L371.50,304.22 L325.80,332.80Z" fill="#e8d890" stroke="#e8d890" stroke-width="0.35"/>
<path d="M325.80,332.80 L371.50,302.21 L417.30,325.13 L463.50,318.80 L509.40,283.21 L509.40,283.23 L463.50,318.87 L417.30,325.20 L371.50,304.04 L325.80,332.80Z" fill="#d8d0b4" stroke="#d8d0b4" stroke-width="0.35"/>
<path d="M325.80,332.80 L371.50,300.84 L417.30,325.10 L463.50,318.76 L509.40,283.20 L509.40,283.21 L463.50,318.80 L417.30,325.13 L371.50,302.21 L325.80,332.80Z" fill="#c8c0d8" stroke="#c8c0d8" stroke-width="0.35"/>
<path d="M325.80,332.80 L371.50,299.00 L417.30,325.06 L463.50,318.72 L509.40,283.18 L509.40,283.20 L463.50,318.76 L417.30,325.10 L371.50,300.84 L325.80,332.80Z" fill="#d2c2a2" stroke="#d2c2a2" stroke-width="0.35"/>
<path d="M325.80,332.80 L371.50,297.63 L417.30,325.03 L463.50,318.69 L509.40,283.16 L509.40,283.18 L463.50,318.72 L417.30,325.06 L371.50,299.00 L325.80,332.80Z" fill="#b8c8d8" stroke="#b8c8d8" stroke-width="0.35"/>
<path d="M325.80,332.80 L371.50,295.34 L417.30,324.99 L463.50,318.65 L509.40,283.14 L509.40,283.16 L463.50,318.69 L417.30,325.03 L371.50,297.63 L325.80,332.80Z" fill="#e4c6b4" stroke="#e4c6b4" stroke-width="0.35"/>
<path d="M325.80,332.80 L371.50,295.16 L417.30,324.92 L463.50,318.50 L509.40,272.21 L509.40,283.14 L463.50,318.65 L417.30,324.99 L371.50,295.34 L325.80,332.80Z" fill="#2a6aa8" stroke="#2a6aa8" stroke-width="0.35"/>
<path d="M325.80,332.80 L371.50,292.87 L417.30,324.78 L463.50,318.35 L509.40,272.19 L509.40,272.21 L463.50,318.50 L417.30,324.92 L371.50,295.16 L325.80,332.80Z" fill="#1a4a6a" stroke="#1a4a6a" stroke-width="0.35"/>
<path d="M325.80,332.80 L371.50,289.48 L417.30,324.64 L463.50,318.20 L509.40,272.17 L509.40,272.19 L463.50,318.35 L417.30,324.78 L371.50,292.87 L325.80,332.80Z" fill="#e2d0c6" stroke="#e2d0c6" stroke-width="0.35"/>
<path d="M325.80,332.80 L371.50,289.29 L417.30,324.57 L463.50,317.98 L509.40,266.76 L509.40,272.17 L463.50,318.20 L417.30,324.64 L371.50,289.48 L325.80,332.80Z" fill="#b85a20" stroke="#b85a20" stroke-width="0.35"/>
<path d="M325.80,332.80 L371.50,287.46 L417.30,324.54 L463.50,317.94 L509.40,266.74 L509.40,266.76 L463.50,317.98 L417.30,324.57 L371.50,289.29 L325.80,332.80Z" fill="#d2c2a2" stroke="#d2c2a2" stroke-width="0.35"/>
<path d="M325.80,332.80 L371.50,286.09 L417.30,324.50 L463.50,317.90 L509.40,266.72 L509.40,266.74 L463.50,317.94 L417.30,324.54 L371.50,287.46 L325.80,332.80Z" fill="#c0b8a8" stroke="#c0b8a8" stroke-width="0.35"/>
<path d="M325.80,332.80 L371.50,284.26 L417.30,324.47 L463.50,317.87 L509.40,266.70 L509.40,266.72 L463.50,317.90 L417.30,324.50 L371.50,286.09 L325.80,332.80Z" fill="#e8c8b8" stroke="#e8c8b8" stroke-width="0.35"/>
<path d="M325.80,332.80 L371.50,281.97 L417.30,324.43 L463.50,317.83 L509.40,266.68 L509.40,266.70 L463.50,317.87 L417.30,324.47 L371.50,284.26 L325.80,332.80Z" fill="#c0c8d8" stroke="#c0c8d8" stroke-width="0.35"/>
<path d="M325.80,332.80 L371.50,279.95 L417.30,324.29 L463.50,317.68 L509.40,266.66 L509.40,266.68 L463.50,317.83 L417.30,324.43 L371.50,281.97 L325.80,332.80Z" fill="#7a4a2a" stroke="#7a4a2a" stroke-width="0.35"/>
<path d="M325.80,332.80 L371.50,277.85 L417.30,324.15 L463.50,317.53 L509.40,266.64 L509.40,266.66 L463.50,317.68 L417.30,324.29 L371.50,279.95 L325.80,332.80Z" fill="#5a9a40" stroke="#5a9a40" stroke-width="0.35"/>
<path d="M325.80,332.80 L371.50,274.46 L417.30,322.46 L463.50,317.31 L509.40,266.62 L509.40,266.64 L463.50,317.53 L417.30,324.15 L371.50,277.85 L325.80,332.80Z" fill="#2a6a2a" stroke="#2a6a2a" stroke-width="0.35"/>
<path d="M325.80,332.80 L371.50,274.18 L417.30,322.32 L463.50,317.16 L509.40,250.97 L509.40,266.62 L463.50,317.31 L417.30,322.46 L371.50,274.46 L325.80,332.80Z" fill="#8a6a10" stroke="#8a6a10" stroke-width="0.35"/>
<path d="M325.80,332.80 L371.50,272.90 L417.30,320.70 L463.50,315.45 L509.40,250.95 L509.40,250.97 L463.50,317.16 L417.30,322.32 L371.50,274.18 L325.80,332.80Z" fill="#f0e8a0" stroke="#f0e8a0" stroke-width="0.35"/>
<path d="M325.80,332.80 L371.50,270.15 L417.30,320.63 L463.50,315.30 L509.40,250.93 L509.40,250.95 L463.50,315.45 L417.30,320.70 L371.50,272.90 L325.80,332.80Z" fill="#f0b0a0" stroke="#f0b0a0" stroke-width="0.35"/>
<path d="M325.80,332.80 L371.50,266.76 L417.30,320.56 L463.50,315.15 L509.40,250.91 L509.40,250.93 L463.50,315.30 L417.30,320.63 L371.50,270.15 L325.80,332.80Z" fill="#d6d6d6" stroke="#d6d6d6" stroke-width="0.35"/>
<path d="M325.80,332.80 L371.50,264.11 L417.30,320.49 L463.50,315.00 L509.40,250.89 L509.40,250.91 L463.50,315.15 L417.30,320.56 L371.50,266.76 L325.80,332.80Z" fill="#b8c8e8" stroke="#b8c8e8" stroke-width="0.35"/>
<path d="M325.80,332.80 L371.50,261.36 L417.30,320.42 L463.50,314.78 L509.40,250.87 L509.40,250.89 L463.50,315.00 L417.30,320.49 L371.50,264.11 L325.80,332.80Z" fill="#c0e0e0" stroke="#c0e0e0" stroke-width="0.35"/>
<path d="M325.80,332.80 L371.50,259.99 L417.30,320.35 L463.50,314.63 L509.40,250.85 L509.40,250.87 L463.50,314.78 L417.30,320.42 L371.50,261.36 L325.80,332.80Z" fill="#5a5a6a" stroke="#5a5a6a" stroke-width="0.35"/>
<path d="M325.80,332.80 L371.50,259.89 L417.30,320.28 L463.50,312.92 L509.40,250.83 L509.40,250.85 L463.50,314.63 L417.30,320.35 L371.50,259.99 L325.80,332.80Z" fill="#8a9a80" stroke="#8a9a80" stroke-width="0.35"/>
<path d="M325.80,332.80 L371.50,257.88 L417.30,320.21 L463.50,312.77 L509.40,250.81 L509.40,250.83 L463.50,312.92 L417.30,320.28 L371.50,259.89 L325.80,332.80Z" fill="#e8a090" stroke="#e8a090" stroke-width="0.35"/>
<path d="M325.80,332.80 L371.50,253.48 L417.30,320.14 L463.50,312.62 L509.40,250.79 L509.40,250.81 L463.50,312.77 L417.30,320.21 L371.50,257.88 L325.80,332.80Z" fill="#e0b840" stroke="#e0b840" stroke-width="0.35"/>
<path d="M325.80,332.80 L371.50,253.39 L417.30,320.07 L463.50,311.72 L509.40,250.77 L509.40,250.79 L463.50,312.62 L417.30,320.14 L371.50,253.48 L325.80,332.80Z" fill="#a0b0c8" stroke="#a0b0c8" stroke-width="0.35"/>
<path d="M325.80,332.80 L371.50,253.30 L417.30,320.00 L463.50,311.50 L509.40,249.20 L509.40,250.77 L463.50,311.72 L417.30,320.07 L371.50,253.39 L325.80,332.80Z" fill="#f8f0a0" stroke="#f8f0a0" stroke-width="0.35"/>
<line x1="64.5" y1="37.5" x2="64.5" y2="135.5" stroke="#1a1a1a" stroke-width="1"/>
<line x1="64.0" y1="135.5" x2="252.3" y2="135.5" stroke="#1a1a1a" stroke-width="1"/>
<line x1="61.599999999999994" y1="135.5" x2="64.6" y2="135.5" stroke="#1a1a1a" stroke-width="1"/>
<text text-anchor="end" font-size="8.6" fill="#222" stroke="#222" stroke-width="0.15" transform="translate(57.70,138.40) scale(0.955,1)">0</text>
<line x1="61.599999999999994" y1="111.5" x2="64.6" y2="111.5" stroke="#1a1a1a" stroke-width="1"/>
<text text-anchor="end" font-size="8.6" fill="#222" stroke="#222" stroke-width="0.15" transform="translate(57.70,114.60) scale(0.955,1)">0.002</text>
<line x1="61.599999999999994" y1="87.5" x2="64.6" y2="87.5" stroke="#1a1a1a" stroke-width="1"/>
<text text-anchor="end" font-size="8.6" fill="#222" stroke="#222" stroke-width="0.15" transform="translate(57.70,90.80) scale(0.955,1)">0.004</text>
<line x1="61.599999999999994" y1="64.5" x2="64.6" y2="64.5" stroke="#1a1a1a" stroke-width="1"/>
<text text-anchor="end" font-size="8.6" fill="#222" stroke="#222" stroke-width="0.15" transform="translate(57.70,67.00) scale(0.955,1)">0.006</text>
<line x1="61.599999999999994" y1="40.5" x2="64.6" y2="40.5" stroke="#1a1a1a" stroke-width="1"/>
<text text-anchor="end" font-size="8.6" fill="#222" stroke="#222" stroke-width="0.15" transform="translate(57.70,43.20) scale(0.955,1)">0.008</text>
<line x1="65.5" y1="135.4" x2="65.5" y2="138.4" stroke="#1a1a1a" stroke-width="1"/>
<text text-anchor="end" font-size="8" fill="#222" stroke="#222" stroke-width="0.15" transform="translate(65.7,144.0) rotate(-45)">Pre-infusion</text>
<line x1="126.5" y1="135.4" x2="126.5" y2="138.4" stroke="#1a1a1a" stroke-width="1"/>
<text text-anchor="end" font-size="8" fill="#222" stroke="#222" stroke-width="0.15" transform="translate(127.0,144.0) rotate(-45)">1 month</text>
<line x1="187.5" y1="135.4" x2="187.5" y2="138.4" stroke="#1a1a1a" stroke-width="1"/>
<text text-anchor="end" font-size="8" fill="#222" stroke="#222" stroke-width="0.15" transform="translate(188.1,144.0) rotate(-45)">2 months</text>
<line x1="248.5" y1="135.4" x2="248.5" y2="138.4" stroke="#1a1a1a" stroke-width="1"/>
<text text-anchor="end" font-size="8" fill="#222" stroke="#222" stroke-width="0.15" transform="translate(249.29999999999998,144.0) rotate(-45)">11 months</text>
<line x1="325.5" y1="38.7" x2="325.5" y2="135.5" stroke="#1a1a1a" stroke-width="1"/>
<line x1="325.0" y1="135.5" x2="513" y2="135.5" stroke="#1a1a1a" stroke-width="1"/>
<line x1="322.9" y1="135.5" x2="325.9" y2="135.5" stroke="#1a1a1a" stroke-width="1"/>
<text text-anchor="end" font-size="8.6" fill="#222" stroke="#222" stroke-width="0.15" transform="translate(319.00,138.90) scale(0.955,1)">0</text>
<line x1="322.9" y1="124.5" x2="325.9" y2="124.5" stroke="#1a1a1a" stroke-width="1"/>
<text text-anchor="end" font-size="8.6" fill="#222" stroke="#222" stroke-width="0.15" transform="translate(319.00,127.15) scale(0.955,1)">0.0005</text>
<line x1="322.9" y1="112.5" x2="325.9" y2="112.5" stroke="#1a1a1a" stroke-width="1"/>
<text text-anchor="end" font-size="8.6" fill="#222" stroke="#222" stroke-width="0.15" transform="translate(319.00,115.40) scale(0.955,1)">0.001</text>
<line x1="322.9" y1="100.5" x2="325.9" y2="100.5" stroke="#1a1a1a" stroke-width="1"/>
<text text-anchor="end" font-size="8.6" fill="#222" stroke="#222" stroke-width="0.15" transform="translate(319.00,103.65) scale(0.955,1)">0.0015</text>
<line x1="322.9" y1="88.5" x2="325.9" y2="88.5" stroke="#1a1a1a" stroke-width="1"/>
<text text-anchor="end" font-size="8.6" fill="#222" stroke="#222" stroke-width="0.15" transform="translate(319.00,91.90) scale(0.955,1)">0.002</text>
<line x1="322.9" y1="77.5" x2="325.9" y2="77.5" stroke="#1a1a1a" stroke-width="1"/>
<text text-anchor="end" font-size="8.6" fill="#222" stroke="#222" stroke-width="0.15" transform="translate(319.00,80.15) scale(0.955,1)">0.0025</text>
<line x1="322.9" y1="65.5" x2="325.9" y2="65.5" stroke="#1a1a1a" stroke-width="1"/>
<text text-anchor="end" font-size="8.6" fill="#222" stroke="#222" stroke-width="0.15" transform="translate(319.00,68.40) scale(0.955,1)">0.003</text>
<line x1="322.9" y1="53.5" x2="325.9" y2="53.5" stroke="#1a1a1a" stroke-width="1"/>
<text text-anchor="end" font-size="8.6" fill="#222" stroke="#222" stroke-width="0.15" transform="translate(319.00,56.65) scale(0.955,1)">0.0035</text>
<line x1="322.9" y1="41.5" x2="325.9" y2="41.5" stroke="#1a1a1a" stroke-width="1"/>
<text text-anchor="end" font-size="8.6" fill="#222" stroke="#222" stroke-width="0.15" transform="translate(319.00,44.90) scale(0.955,1)">0.004</text>
<line x1="326.5" y1="135.5" x2="326.5" y2="138.5" stroke="#1a1a1a" stroke-width="1"/>
<text text-anchor="end" font-size="8" fill="#222" stroke="#222" stroke-width="0.15" transform="translate(326.9,144.1) rotate(-45)">Pre-infusion</text>
<line x1="387.5" y1="135.5" x2="387.5" y2="138.5" stroke="#1a1a1a" stroke-width="1"/>
<text text-anchor="end" font-size="8" fill="#222" stroke="#222" stroke-width="0.15" transform="translate(387.9,144.1) rotate(-45)">1 month</text>
<line x1="448.5" y1="135.5" x2="448.5" y2="138.5" stroke="#1a1a1a" stroke-width="1"/>
<text text-anchor="end" font-size="8" fill="#222" stroke="#222" stroke-width="0.15" transform="translate(449.09999999999997,144.1) rotate(-45)">4 months</text>
<line x1="509.5" y1="135.5" x2="509.5" y2="138.5" stroke="#1a1a1a" stroke-width="1"/>
<text text-anchor="end" font-size="8" fill="#222" stroke="#222" stroke-width="0.15" transform="translate(510.3,144.1) rotate(-45)">8 months</text>
<line x1="64.5" y1="235.2" x2="64.5" y2="333.5" stroke="#1a1a1a" stroke-width="1"/>
<line x1="64.0" y1="333.5" x2="251" y2="333.5" stroke="#1a1a1a" stroke-width="1"/>
<line x1="61.400000000000006" y1="333.5" x2="64.4" y2="333.5" stroke="#1a1a1a" stroke-width="1"/>
<text text-anchor="end" font-size="8.6" fill="#222" stroke="#222" stroke-width="0.15" transform="translate(57.50,336.30) scale(0.955,1)">0</text>
<line x1="61.400000000000006" y1="309.5" x2="64.4" y2="309.5" stroke="#1a1a1a" stroke-width="1"/>
<text text-anchor="end" font-size="8.6" fill="#222" stroke="#222" stroke-width="0.15" transform="translate(57.50,312.60) scale(0.955,1)">0.0002</text>
<line x1="61.400000000000006" y1="285.5" x2="64.4" y2="285.5" stroke="#1a1a1a" stroke-width="1"/>
<text text-anchor="end" font-size="8.6" fill="#222" stroke="#222" stroke-width="0.15" transform="translate(57.50,288.90) scale(0.955,1)">0.0004</text>
<line x1="61.400000000000006" y1="262.5" x2="64.4" y2="262.5" stroke="#1a1a1a" stroke-width="1"/>
<text text-anchor="end" font-size="8.6" fill="#222" stroke="#222" stroke-width="0.15" transform="translate(57.50,265.20) scale(0.955,1)">0.0006</text>
<line x1="61.400000000000006" y1="238.5" x2="64.4" y2="238.5" stroke="#1a1a1a" stroke-width="1"/>
<text text-anchor="end" font-size="8.6" fill="#222" stroke="#222" stroke-width="0.15" transform="translate(57.50,241.50) scale(0.955,1)">0.0008</text>
<line x1="64.5" y1="333.3" x2="64.5" y2="336.3" stroke="#1a1a1a" stroke-width="1"/>
<text text-anchor="end" font-size="8" fill="#222" stroke="#222" stroke-width="0.15" transform="translate(65.10000000000001,341.90000000000003) rotate(-45)">Pre-Infusion</text>
<line x1="126.5" y1="333.3" x2="126.5" y2="336.3" stroke="#1a1a1a" stroke-width="1"/>
<text text-anchor="end" font-size="8" fill="#222" stroke="#222" stroke-width="0.15" transform="translate(126.7,341.90000000000003) rotate(-45)">2 months</text>
<line x1="187.5" y1="333.3" x2="187.5" y2="336.3" stroke="#1a1a1a" stroke-width="1"/>
<text text-anchor="end" font-size="8" fill="#222" stroke="#222" stroke-width="0.15" transform="translate(187.89999999999998,341.90000000000003) rotate(-45)">3 months</text>
<line x1="248.5" y1="333.3" x2="248.5" y2="336.3" stroke="#1a1a1a" stroke-width="1"/>
<text text-anchor="end" font-size="8" fill="#222" stroke="#222" stroke-width="0.15" transform="translate(249.2,341.90000000000003) rotate(-45)">17 months</text>
<line x1="325.5" y1="235.2" x2="325.5" y2="332.5" stroke="#1a1a1a" stroke-width="1"/>
<line x1="325.0" y1="332.5" x2="512" y2="332.5" stroke="#1a1a1a" stroke-width="1"/>
<line x1="322.6" y1="332.5" x2="325.6" y2="332.5" stroke="#1a1a1a" stroke-width="1"/>
<text text-anchor="end" font-size="8.6" fill="#222" stroke="#222" stroke-width="0.15" transform="translate(318.70,335.80) scale(0.955,1)">0</text>
<line x1="322.6" y1="319.5" x2="325.6" y2="319.5" stroke="#1a1a1a" stroke-width="1"/>
<text text-anchor="end" font-size="8.6" fill="#222" stroke="#222" stroke-width="0.15" transform="translate(318.70,322.33) scale(0.955,1)">0.0005</text>
<line x1="322.6" y1="305.5" x2="325.6" y2="305.5" stroke="#1a1a1a" stroke-width="1"/>
<text text-anchor="end" font-size="8.6" fill="#222" stroke="#222" stroke-width="0.15" transform="translate(318.70,308.86) scale(0.955,1)">0.001</text>
<line x1="322.6" y1="292.5" x2="325.6" y2="292.5" stroke="#1a1a1a" stroke-width="1"/>
<text text-anchor="end" font-size="8.6" fill="#222" stroke="#222" stroke-width="0.15" transform="translate(318.70,295.39) scale(0.955,1)">0.0015</text>
<line x1="322.6" y1="278.5" x2="325.6" y2="278.5" stroke="#1a1a1a" stroke-width="1"/>
<text text-anchor="end" font-size="8.6" fill="#222" stroke="#222" stroke-width="0.15" transform="translate(318.70,281.92) scale(0.955,1)">0.002</text>
<line x1="322.6" y1="265.5" x2="325.6" y2="265.5" stroke="#1a1a1a" stroke-width="1"/>
<text text-anchor="end" font-size="8.6" fill="#222" stroke="#222" stroke-width="0.15" transform="translate(318.70,268.45) scale(0.955,1)">0.0025</text>
<line x1="322.6" y1="251.5" x2="325.6" y2="251.5" stroke="#1a1a1a" stroke-width="1"/>
<text text-anchor="end" font-size="8.6" fill="#222" stroke="#222" stroke-width="0.15" transform="translate(318.70,254.98) scale(0.955,1)">0.003</text>
<line x1="322.6" y1="238.5" x2="325.6" y2="238.5" stroke="#1a1a1a" stroke-width="1"/>
<text text-anchor="end" font-size="8.6" fill="#222" stroke="#222" stroke-width="0.15" transform="translate(318.70,241.51) scale(0.955,1)">0.0035</text>
<line x1="325.5" y1="332.8" x2="325.5" y2="335.8" stroke="#1a1a1a" stroke-width="1"/>
<text text-anchor="end" font-size="8" fill="#222" stroke="#222" stroke-width="0.15" transform="translate(326.5,341.40000000000003) rotate(-45)">Pre-Infusion</text>
<line x1="371.5" y1="332.8" x2="371.5" y2="335.8" stroke="#1a1a1a" stroke-width="1"/>
<text text-anchor="end" font-size="8" fill="#222" stroke="#222" stroke-width="0.15" transform="translate(372.2,341.40000000000003) rotate(-45)">1 month</text>
<line x1="417.5" y1="332.8" x2="417.5" y2="335.8" stroke="#1a1a1a" stroke-width="1"/>
<text text-anchor="end" font-size="8" fill="#222" stroke="#222" stroke-width="0.15" transform="translate(418.0,341.40000000000003) rotate(-45)">2.5 months</text>
<line x1="463.5" y1="332.8" x2="463.5" y2="335.8" stroke="#1a1a1a" stroke-width="1"/>
<text text-anchor="end" font-size="8" fill="#222" stroke="#222" stroke-width="0.15" transform="translate(464.2,341.40000000000003) rotate(-45)">4 months</text>
<line x1="509.5" y1="332.8" x2="509.5" y2="335.8" stroke="#1a1a1a" stroke-width="1"/>
<text text-anchor="end" font-size="8" fill="#222" stroke="#222" stroke-width="0.15" transform="translate(510.09999999999997,341.40000000000003) rotate(-45)">13 months</text>
<text x="420.3" y="262.4" text-anchor="middle" font-size="8.3" fill="#111" stroke="#111" stroke-width="0.12">CAR-T</text>
<text x="158.5" y="187.2" text-anchor="middle" font-size="10" fill="#1a1a1a" stroke="#1a1a1a" stroke-width="0.3" textLength="52" lengthAdjust="spacingAndGlyphs">Time postinfusion</text>
<text x="419.5" y="187.2" text-anchor="middle" font-size="10" fill="#1a1a1a" stroke="#1a1a1a" stroke-width="0.3" textLength="52" lengthAdjust="spacingAndGlyphs">Time postinfusion</text>
<text x="158.7" y="385.5" text-anchor="middle" font-size="10" fill="#1a1a1a" stroke="#1a1a1a" stroke-width="0.3" textLength="52" lengthAdjust="spacingAndGlyphs">Time postinfusion</text>
<text x="419.5" y="385.4" text-anchor="middle" font-size="10" fill="#1a1a1a" stroke="#1a1a1a" stroke-width="0.3" textLength="52" lengthAdjust="spacingAndGlyphs">Time postinfusion</text>
<text text-anchor="middle" font-size="9" fill="#1a1a1a" stroke="#1a1a1a" stroke-width="0.22" textLength="11.20" lengthAdjust="spacingAndGlyphs" transform="translate(30.9,117.30) rotate(-90)">TCR</text>
<text text-anchor="middle" font-size="9" fill="#1a1a1a" stroke="#1a1a1a" stroke-width="0.22" textLength="28.40" lengthAdjust="spacingAndGlyphs" transform="translate(30.9,94.70) rotate(-90)">clonotype</text>
<text text-anchor="middle" font-size="9" fill="#1a1a1a" stroke="#1a1a1a" stroke-width="0.22" textLength="29.40" lengthAdjust="spacingAndGlyphs" transform="translate(30.9,63.50) rotate(-90)">frequency</text>
<text text-anchor="middle" font-size="9" fill="#1a1a1a" stroke="#1a1a1a" stroke-width="0.22" textLength="11.20" lengthAdjust="spacingAndGlyphs" transform="translate(287.5,118.20) rotate(-90)">TCR</text>
<text text-anchor="middle" font-size="9" fill="#1a1a1a" stroke="#1a1a1a" stroke-width="0.22" textLength="28.40" lengthAdjust="spacingAndGlyphs" transform="translate(287.5,95.60) rotate(-90)">clonotype</text>
<text text-anchor="middle" font-size="9" fill="#1a1a1a" stroke="#1a1a1a" stroke-width="0.22" textLength="29.40" lengthAdjust="spacingAndGlyphs" transform="translate(287.5,64.40) rotate(-90)">frequency</text>
<text text-anchor="middle" font-size="9" fill="#1a1a1a" stroke="#1a1a1a" stroke-width="0.22" textLength="11.20" lengthAdjust="spacingAndGlyphs" transform="translate(26.1,316.00) rotate(-90)">TCR</text>
<text text-anchor="middle" font-size="9" fill="#1a1a1a" stroke="#1a1a1a" stroke-width="0.22" textLength="28.40" lengthAdjust="spacingAndGlyphs" transform="translate(26.1,293.40) rotate(-90)">clonotype</text>
<text text-anchor="middle" font-size="9" fill="#1a1a1a" stroke="#1a1a1a" stroke-width="0.22" textLength="29.40" lengthAdjust="spacingAndGlyphs" transform="translate(26.1,262.20) rotate(-90)">frequency</text>
<text text-anchor="middle" font-size="9" fill="#1a1a1a" stroke="#1a1a1a" stroke-width="0.22" textLength="12.30" lengthAdjust="spacingAndGlyphs" transform="translate(287.3,317.85) rotate(-90)">TCR</text>
<text text-anchor="middle" font-size="9" fill="#1a1a1a" stroke="#1a1a1a" stroke-width="0.22" textLength="29.00" lengthAdjust="spacingAndGlyphs" transform="translate(287.3,292.80) rotate(-90)">clonotype</text>
<text text-anchor="middle" font-size="9" fill="#1a1a1a" stroke="#1a1a1a" stroke-width="0.22" textLength="29.30" lengthAdjust="spacingAndGlyphs" transform="translate(287.3,259.65) rotate(-90)">frequency</text>
<line x1="168.6" y1="419.5" x2="168.6" y2="531.5" stroke="#1a1a1a" stroke-width="1"/>
<line x1="168.1" y1="531.5" x2="392" y2="531.5" stroke="#1a1a1a" stroke-width="1"/>
<line x1="165.6" y1="530.62" x2="168.6" y2="530.62" stroke="#1a1a1a" stroke-width="0.9"/>
<text text-anchor="end" font-size="8.6" fill="#222" stroke="#222" stroke-width="0.15" transform="translate(162.00,533.62) scale(0.955,1)">6</text>
<line x1="165.6" y1="513.55" x2="168.6" y2="513.55" stroke="#1a1a1a" stroke-width="0.9"/>
<text text-anchor="end" font-size="8.6" fill="#222" stroke="#222" stroke-width="0.15" transform="translate(162.00,516.55) scale(0.955,1)">7</text>
<line x1="165.6" y1="496.48" x2="168.6" y2="496.48" stroke="#1a1a1a" stroke-width="0.9"/>
<text text-anchor="end" font-size="8.6" fill="#222" stroke="#222" stroke-width="0.15" transform="translate(162.00,499.48) scale(0.955,1)">8</text>
<line x1="165.6" y1="479.41" x2="168.6" y2="479.41" stroke="#1a1a1a" stroke-width="0.9"/>
<text text-anchor="end" font-size="8.6" fill="#222" stroke="#222" stroke-width="0.15" transform="translate(162.00,482.41) scale(0.955,1)">9</text>
<line x1="165.6" y1="462.34" x2="168.6" y2="462.34" stroke="#1a1a1a" stroke-width="0.9"/>
<text text-anchor="end" font-size="8.6" fill="#222" stroke="#222" stroke-width="0.15" transform="translate(162.00,465.34) scale(0.955,1)">10</text>
<line x1="165.6" y1="445.27" x2="168.6" y2="445.27" stroke="#1a1a1a" stroke-width="0.9"/>
<text text-anchor="end" font-size="8.6" fill="#222" stroke="#222" stroke-width="0.15" transform="translate(162.00,448.27) scale(0.955,1)">11</text>
<line x1="165.6" y1="428.20" x2="168.6" y2="428.20" stroke="#1a1a1a" stroke-width="0.9"/>
<text text-anchor="end" font-size="8.6" fill="#222" stroke="#222" stroke-width="0.15" transform="translate(162.00,431.20) scale(0.955,1)">12</text>
<line x1="177.30" y1="531.5" x2="177.30" y2="534.5" stroke="#1a1a1a" stroke-width="0.9"/>
<text text-anchor="middle" font-size="8.6" fill="#222" stroke="#222" stroke-width="0.15" transform="translate(177.30,545.1) scale(0.955,1)">0</text>
<line x1="217.90" y1="531.5" x2="217.90" y2="534.5" stroke="#1a1a1a" stroke-width="0.9"/>
<text text-anchor="middle" font-size="8.6" fill="#222" stroke="#222" stroke-width="0.15" transform="translate(217.90,545.1) scale(0.955,1)">100</text>
<line x1="258.50" y1="531.5" x2="258.50" y2="534.5" stroke="#1a1a1a" stroke-width="0.9"/>
<text text-anchor="middle" font-size="8.6" fill="#222" stroke="#222" stroke-width="0.15" transform="translate(258.50,545.1) scale(0.955,1)">200</text>
<line x1="299.10" y1="531.5" x2="299.10" y2="534.5" stroke="#1a1a1a" stroke-width="0.9"/>
<text text-anchor="middle" font-size="8.6" fill="#222" stroke="#222" stroke-width="0.15" transform="translate(299.10,545.1) scale(0.955,1)">300</text>
<line x1="339.70" y1="531.5" x2="339.70" y2="534.5" stroke="#1a1a1a" stroke-width="0.9"/>
<text text-anchor="middle" font-size="8.6" fill="#222" stroke="#222" stroke-width="0.15" transform="translate(339.70,545.1) scale(0.955,1)">400</text>
<line x1="380.30" y1="531.5" x2="380.30" y2="534.5" stroke="#1a1a1a" stroke-width="0.9"/>
<text text-anchor="middle" font-size="8.6" fill="#222" stroke="#222" stroke-width="0.15" transform="translate(380.30,545.1) scale(0.955,1)">500</text>
<text x="280.6" y="560.2" text-anchor="middle" font-size="10" fill="#1a1a1a" stroke="#1a1a1a" stroke-width="0.3" textLength="52.5" lengthAdjust="spacingAndGlyphs">Days postinfusion</text>
<text text-anchor="middle" font-size="9" fill="#222" stroke="#222" stroke-width="0.25" textLength="53.4" lengthAdjust="spacingAndGlyphs" transform="translate(146.9,475.5) rotate(-90)">Shannon diversity</text>
<path d="M177.30,474.29 L196.79,478.56 L209.78,478.22 L384.36,462.34" fill="none" stroke="#ee9228" stroke-width="1.45" stroke-linejoin="round"/><rect x="175.70" y="472.69" width="3.2" height="3.2" fill="#e8802a" stroke="#fff" stroke-width="0.7"/><rect x="195.19" y="476.96" width="3.2" height="3.2" fill="#e8802a" stroke="#fff" stroke-width="0.7"/><rect x="208.18" y="476.62" width="3.2" height="3.2" fill="#e8802a" stroke="#fff" stroke-width="0.7"/><rect x="382.76" y="460.74" width="3.2" height="3.2" fill="#e8802a" stroke="#fff" stroke-width="0.7"/>
<line x1="177.30" y1="458.93" x2="193.13" y2="486.24" stroke="#3a8f42" stroke-width="1.45" stroke-linecap="round"/><line x1="193.13" y1="486.24" x2="209.78" y2="478.04" stroke="#3a8f42" stroke-width="1.45" stroke-linecap="round"/><line x1="209.78" y1="478.04" x2="310.47" y2="469.17" stroke="#4f5a30" stroke-width="1.45" stroke-linecap="round"/><rect x="175.70" y="457.33" width="3.2" height="3.2" fill="#3a8040" stroke="#fff" stroke-width="0.7"/><rect x="191.53" y="484.64" width="3.2" height="3.2" fill="#3a8040" stroke="#fff" stroke-width="0.7"/><rect x="208.18" y="476.44" width="3.2" height="3.2" fill="#5a6a30" stroke="#fff" stroke-width="0.7"/><rect x="308.87" y="467.57" width="3.2" height="3.2" fill="#4a7a30" stroke="#fff" stroke-width="0.7"/>
<path d="M177.30,428.20 L192.73,490.51 L231.30,428.20 L276.36,423.59" fill="none" stroke="#1c4470" stroke-width="1.45" stroke-linejoin="round"/><rect x="175.70" y="426.60" width="3.2" height="3.2" fill="#13233a" stroke="#fff" stroke-width="0.7"/><rect x="191.13" y="488.91" width="3.2" height="3.2" fill="#13233a" stroke="#fff" stroke-width="0.7"/><rect x="229.70" y="426.60" width="3.2" height="3.2" fill="#13233a" stroke="#fff" stroke-width="0.7"/><rect x="274.76" y="421.99" width="3.2" height="3.2" fill="#13233a" stroke="#fff" stroke-width="0.7"/>
<path d="M177.30,504.16 L189.48,501.60 L211.40,520.89 L227.64,514.06 L339.70,527.21" fill="none" stroke="#a8163a" stroke-width="1.45" stroke-linejoin="round"/><rect x="175.70" y="502.56" width="3.2" height="3.2" fill="#7e0c28" stroke="#fff" stroke-width="0.7"/><rect x="187.88" y="500.00" width="3.2" height="3.2" fill="#7e0c28" stroke="#fff" stroke-width="0.7"/><rect x="209.80" y="519.29" width="3.2" height="3.2" fill="#7e0c28" stroke="#fff" stroke-width="0.7"/><rect x="226.04" y="512.46" width="3.2" height="3.2" fill="#7e0c28" stroke="#fff" stroke-width="0.7"/><rect x="338.10" y="525.61" width="3.2" height="3.2" fill="#7e0c28" stroke="#fff" stroke-width="0.7"/>
</svg></div></body></html>
